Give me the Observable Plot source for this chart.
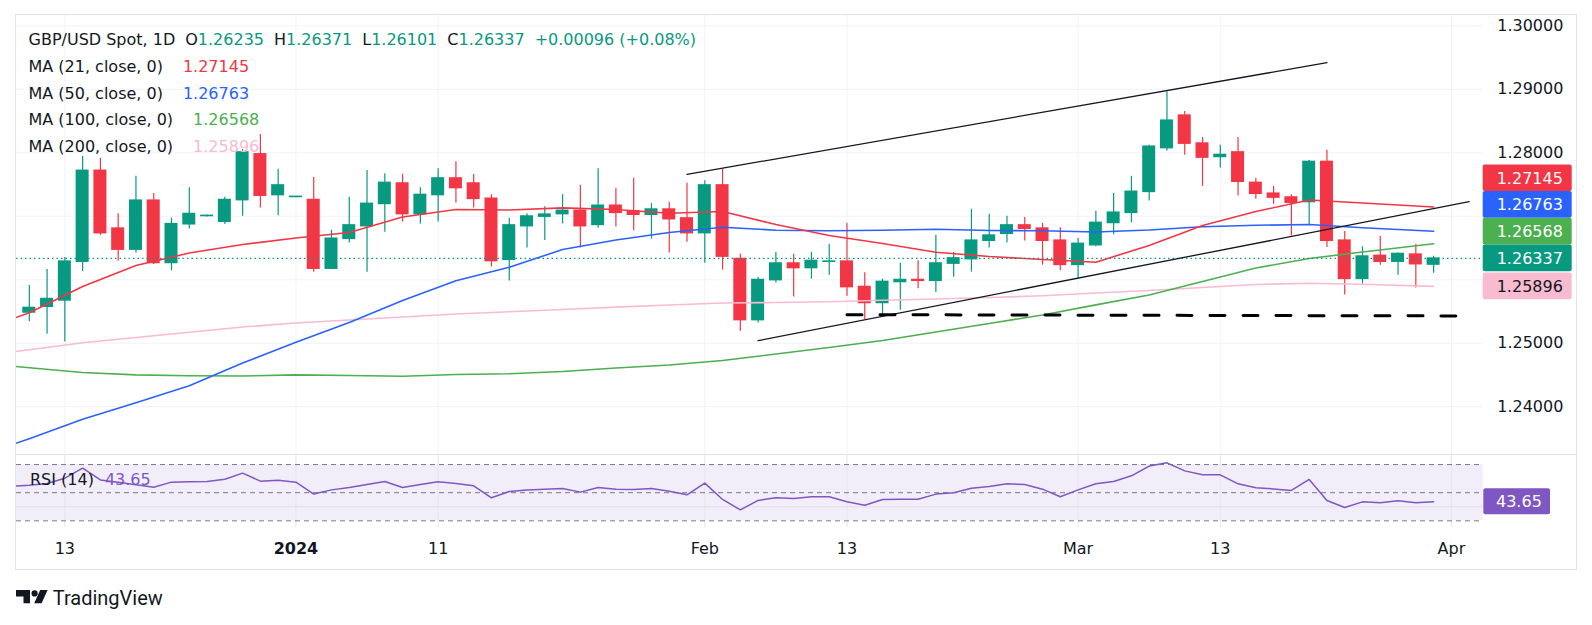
<!DOCTYPE html>
<html><head><meta charset="utf-8">
<script src="https://cdn.jsdelivr.net/npm/d3@7"></script>
<script src="https://cdn.jsdelivr.net/npm/@observablehq/plot@0.6"></script>
<style>
html,body{margin:0;padding:0;background:#fff;}
#wrap{position:relative;width:1592px;height:625px;overflow:hidden;font-family:"DejaVu Sans",sans-serif;color:#131722;}
#wrap > svg{position:absolute;left:0;}
.legend{position:absolute;font-size:16px;line-height:26.7px;white-space:nowrap;}
.row{display:flex;gap:20px;height:26.7px;}
.row.first{gap:10px;}
.frame{position:absolute;box-sizing:border-box;border:1.5px solid #E0E3EB;}
.sep{position:absolute;background:#E0E3EB;}
</style></head><body><div id="wrap"></div>
<script>
// ---------- DATA ----------
const dates = ["2023-12-11","2023-12-12","2023-12-13","2023-12-14","2023-12-15","2023-12-18","2023-12-19","2023-12-20","2023-12-21","2023-12-22",
"2023-12-25","2023-12-26","2023-12-27","2023-12-28","2023-12-29","2024-01-01","2024-01-02","2024-01-03","2024-01-04","2024-01-05",
"2024-01-08","2024-01-09","2024-01-10","2024-01-11","2024-01-12","2024-01-15","2024-01-16","2024-01-17","2024-01-18","2024-01-19",
"2024-01-22","2024-01-23","2024-01-24","2024-01-25","2024-01-26","2024-01-29","2024-01-30","2024-01-31","2024-02-01","2024-02-02",
"2024-02-05","2024-02-06","2024-02-07","2024-02-08","2024-02-09","2024-02-12","2024-02-13","2024-02-14","2024-02-15","2024-02-16",
"2024-02-19","2024-02-20","2024-02-21","2024-02-22","2024-02-23","2024-02-26","2024-02-27","2024-02-28","2024-02-29","2024-03-01",
"2024-03-04","2024-03-05","2024-03-06","2024-03-07","2024-03-08","2024-03-11","2024-03-12","2024-03-13","2024-03-14","2024-03-15",
"2024-03-18","2024-03-19","2024-03-20","2024-03-21","2024-03-22","2024-03-25","2024-03-26","2024-03-27","2024-03-28","2024-03-29"];

const open = [1.2548,1.2557,1.2567,1.2628,1.2772,1.2681,1.2647,1.2725,1.2626,1.2687,
1.2700,1.2691,1.2725,1.2798,1.2733,1.2730,1.2726,1.2617,1.2664,1.2684,
1.2719,1.2752,1.2703,1.2733,1.2760,1.2752,1.2728,1.2631,1.2684,1.2699,
1.2703,1.2709,1.2686,1.2717,1.2708,1.2702,1.2711,1.2697,1.2673,1.2749,
1.2633,1.2536,1.2599,1.2626,1.2618,1.2628,1.2629,1.2589,1.2563,1.2596,
1.2600,1.2598,1.2625,1.2632,1.2661,1.2672,1.2686,1.2681,1.2662,1.2623,
1.2654,1.2689,1.2705,1.2738,1.2807,1.2859,1.2815,1.2793,1.2801,1.2753,
1.2736,1.2730,1.2722,1.2786,1.2662,1.2601,1.2638,1.2628,1.2640,1.26235];

const high = [1.2591,1.2616,1.2635,1.2794,1.2791,1.2704,1.2763,1.2736,1.2697,1.2745,
1.2702,1.2730,1.2805,1.2829,1.2774,1.2731,1.2761,1.2678,1.2730,1.2772,
1.2767,1.2766,1.2745,1.2775,1.2786,1.2766,1.2734,1.2697,1.2704,1.2715,
1.2734,1.2749,1.2775,1.2744,1.2760,1.2720,1.2722,1.2752,1.2756,1.2774,
1.2640,1.2604,1.2643,1.2640,1.2643,1.2656,1.2689,1.2611,1.2601,1.2626,
1.2630,1.2670,1.2643,1.2711,1.2703,1.2700,1.2698,1.2689,1.2682,1.2665,
1.2708,1.2736,1.2763,1.2812,1.2896,1.2865,1.2824,1.2812,1.2824,1.2760,
1.2747,1.2734,1.2788,1.2804,1.2676,1.2652,1.2668,1.2642,1.2656,1.26371];

const low = [1.2534,1.2514,1.2502,1.2613,1.2670,1.2629,1.2642,1.2624,1.2614,1.2680,
1.2699,1.2687,1.2700,1.2713,1.2701,1.2729,1.2612,1.2616,1.2658,1.2612,
1.2675,1.2691,1.2688,1.2691,1.2721,1.2713,1.2620,1.2598,1.2650,1.2662,
1.2688,1.2650,1.2681,1.2683,1.2677,1.2664,1.2642,1.2659,1.2626,1.2615,
1.2519,1.2532,1.2595,1.2573,1.2601,1.2607,1.2574,1.2537,1.2543,1.2552,
1.2586,1.2580,1.2604,1.2612,1.2650,1.2658,1.2661,1.2623,1.2614,1.2601,
1.2652,1.2671,1.2690,1.2724,1.2803,1.2796,1.2747,1.2776,1.2732,1.2727,
1.2719,1.2669,1.2687,1.2651,1.2576,1.2593,1.2623,1.2607,1.2587,1.26101];

const close = [1.2556,1.2570,1.2629,1.2772,1.2673,1.2647,1.2725,1.2626,1.2688,1.2704,
1.2701,1.2726,1.2801,1.2732,1.2749,1.2731,1.2617,1.2665,1.2686,1.2720,
1.2753,1.2703,1.2734,1.2760,1.2744,1.2727,1.2629,1.2686,1.2700,1.2703,
1.2709,1.2684,1.2717,1.2705,1.2702,1.2711,1.2695,1.2673,1.2749,1.2636,
1.2536,1.2600,1.2626,1.2618,1.2630,1.2629,1.2588,1.2563,1.2597,1.2600,
1.2598,1.2626,1.2634,1.2662,1.2670,1.2686,1.2680,1.2661,1.2623,1.2657,
1.2690,1.2706,1.2739,1.2810,1.2851,1.2814,1.2792,1.2797,1.2754,1.2735,
1.2729,1.2721,1.2786,1.2661,1.2601,1.2637,1.2628,1.2641,1.26241,1.26337];

// moving averages read at these bar indices (-1 = 2023-12-08, just off the left edge)
const maIdx = [-1,0,3,6,9,12,15,18,21,24,27,30,33,36,39,42,45,48,51,54,57,60,63,66,69,72,75,79];
const ma21 = [1.2538,1.25479,1.25894,1.26224,1.26421,1.26555,1.26658,1.26744,1.26989,1.27107,1.27099,1.27133,1.27107,1.27048,1.27075,1.26870,1.26697,1.26571,1.26434,1.26366,1.26319,1.26276,1.26540,1.26855,1.27075,1.27256,1.27209,1.27145];
const ma50 = [1.2340,1.23496,1.23803,1.24061,1.24331,1.24688,1.25016,1.25326,1.25673,1.25983,1.26196,1.26476,1.26626,1.26744,1.26828,1.26781,1.26771,1.26781,1.26796,1.26776,1.26773,1.26752,1.26784,1.26836,1.26858,1.26870,1.26820,1.26763];
const ma100 = [1.2464,1.24614,1.24539,1.24502,1.24487,1.24483,1.24502,1.24491,1.24479,1.24507,1.24520,1.24554,1.24610,1.24657,1.24728,1.24830,1.24933,1.25043,1.25177,1.25311,1.25445,1.25604,1.25761,1.25972,1.26185,1.26335,1.26437,1.26568];
const ma200 = [1.2486,1.24898,1.25008,1.25090,1.25172,1.25256,1.25319,1.25366,1.25413,1.25460,1.25497,1.25531,1.25569,1.25602,1.25634,1.25642,1.25654,1.25676,1.25697,1.25720,1.25747,1.25791,1.25831,1.25878,1.25925,1.25946,1.25930,1.25896];

// RSI(14), first value is bar -1 (2023-12-08)
const rsiValues = [54.6,55.3,56.6,60.3,67.4,59.1,57.5,55.6,53.9,57.5,57.7,58.0,59.6,63.9,58.2,58.9,57.5,49.0,52.0,53.7,55.8,
58.0,53.7,55.8,57.7,56.5,54.9,46.4,50.9,52.0,52.5,53.0,50.4,53.7,52.5,52.3,53.0,51.1,48.5,56.8,45.2,
37.8,44.5,46.4,45.9,47.1,47.1,43.5,41.1,45.2,45.4,45.4,49.0,49.9,53.2,54.4,56.3,55.8,52.5,47.1,52.0,
56.3,58.0,62.0,68.9,71.2,65.5,62.7,62.7,56.3,53.5,52.7,51.6,59.4,44.5,39.5,43.5,42.8,44.2,42.8,43.65];

// drawn trend lines: [bar index, price]
const upperTrend = [[37,1.2766],[73,1.2942]];
const lowerTrend = [[41,1.2504],[81,1.2723]];
const supportLine = [[46,1.2545],[80.25,1.2543]];

const tickIdx = [2,15,23,38,46,59,67,80];
const tickLabels = ["13","2024","11","Feb","13","Mar","13","Apr"];
const priceTicks = [1.24,1.25,1.26,1.27,1.28,1.29,1.30];
const rsiLevels = [70,50,30];

// ---------- CHART ----------
const GREEN="#089981", RED="#F23645", BLUE="#2962FF", LGREEN="#4CAF50", PINK="#F8BBD0", PURPLE="#7E57C2";
const W = 1592, plotRight = 1482.7, LH = 26.7;
const xDomain = [-0.72, 81.79];
const yDomain = [1.23247, 1.30163];
const bars = dates.map((d,i)=>({i, date:d, o:open[i], h:high[i], l:low[i], c:close[i]}));
const maSeries = (vals)=>maIdx.map((i,k)=>({i, v:vals[k]}));
const rsiData = rsiValues.map((v,k)=>({i:k-1, v}));
const pts = a=>a.map(([i,p])=>({i,p}));
const col = d=>d.c>=d.o?GREEN:RED;
const lastOf = a=>a[a.length-1];
const baseStyle = {fontFamily:"DejaVu Sans", fontSize:"16px", background:"transparent", overflow:"visible"};

// price-scale labels (value, colours); their boxes hide axis ticks underneath, as in TradingView
const priceLabels = [
  {v:lastOf(ma21), fill:RED, color:"#fff"},
  {v:lastOf(ma50), fill:BLUE, color:"#fff"},
  {v:lastOf(ma100), fill:LGREEN, color:"#fff"},
  {v:lastOf(close), fill:GREEN, color:"#fff", anchor:true},
  {v:lastOf(ma200), fill:PINK, color:"#131722"}
];

const wrap = document.getElementById("wrap");

function buildMain(axisTicks){
  return Plot.plot({
    width:W, height:455, marginTop:15, marginBottom:1, marginLeft:16, marginRight:W-plotRight,
    x:{domain:xDomain, axis:null},
    y:{domain:yDomain, axis:null},
    color:{type:"identity"},
    style:baseStyle,
    marks:[
      Plot.gridY(priceTicks,{stroke:"#F0F3FA", strokeOpacity:1}),
      Plot.gridX(tickIdx,{stroke:"#F0F3FA", strokeOpacity:1}),
      Plot.axisY(axisTicks,{anchor:"right", tickSize:0, tickPadding:14, tickFormat:d=>d.toFixed(5), fill:"#131722", fontSize:16}),
      Plot.ruleX(bars,{x:"i", y1:"l", y2:"h", stroke:col, strokeWidth:1.2}),
      Plot.rect(bars,{x1:d=>d.i-0.366, x2:d=>d.i+0.366, y1:d=>Math.min(d.o,d.c), y2:d=>Math.max(d.o,d.c), fill:col, insetTop:-0.5, insetBottom:-0.5}),
      Plot.line(maSeries(ma200),{x:"i", y:"v", stroke:PINK, strokeWidth:1.6, clip:true}),
      Plot.line(maSeries(ma100),{x:"i", y:"v", stroke:LGREEN, strokeWidth:1.6, clip:true}),
      Plot.line(maSeries(ma50),{x:"i", y:"v", stroke:BLUE, strokeWidth:1.6, clip:true}),
      Plot.line(maSeries(ma21),{x:"i", y:"v", stroke:RED, strokeWidth:1.6, clip:true}),
      Plot.ruleY([lastOf(close)],{stroke:GREEN, strokeDasharray:"1.5,3", strokeWidth:1.2}),
      Plot.line(pts(upperTrend),{x:"i", y:"p", stroke:"#131722", strokeWidth:1.3}),
      Plot.line(pts(lowerTrend),{x:"i", y:"p", stroke:"#131722", strokeWidth:1.3, clip:true}),
      Plot.line(pts(supportLine),{x:"i", y:"p", stroke:"#000", strokeWidth:3, strokeDasharray:"15,18"})
    ]
  });
}

// first pass to get the scale, then stack labels and drop hidden ticks
let main = buildMain(priceTicks);
const ys = main.scale("y");
const lbls = priceLabels.map(d=>({...d, y:ys.apply(d.v)})).sort((a,b)=>a.y-b.y);
const ai = lbls.findIndex(d=>d.anchor);
for (let k=ai-1;k>=0;k--) lbls[k].y = Math.min(lbls[k].y, lbls[k+1].y-LH);
for (let k=ai+1;k<lbls.length;k++) lbls[k].y = Math.max(lbls[k].y, lbls[k-1].y+LH);
const visibleTicks = priceTicks.filter(t=>lbls.every(d=>Math.abs(ys.apply(t)-d.y) > LH/2+7));
main = buildMain(visibleTicks);
main.style.top = "0px";
wrap.appendChild(main);

const gl = d3.select(main).append("g").attr("text-anchor","start");
lbls.forEach(d=>{
  gl.append("rect").attr("x",plotRight).attr("y",d.y-LH/2).attr("width",89).attr("height",LH).attr("rx",2).attr("fill",d.fill);
  gl.append("text").attr("x",plotRight+14).attr("y",d.y).attr("dy","0.36em").attr("fill",d.color)
    .attr("text-anchor","start").attr("font-family","DejaVu Sans").attr("font-size",16).text(d.v.toFixed(5));
});

// RSI pane
const xl = tickIdx.map((i,k)=>({i, label:tickLabels[k], bold:/^\d{4}$/.test(tickLabels[k])}));
const rsi = Plot.plot({
  width:W, height:116, marginTop:0, marginBottom:43, marginLeft:16, marginRight:W-plotRight,
  x:{domain:xDomain, axis:null},
  y:{domain:[25.27,77.14], axis:null},
  style:baseStyle,
  marks:[
    Plot.rect([{lo:30, hi:70}],{x1:xDomain[0], x2:xDomain[1], y1:"lo", y2:"hi", fill:PURPLE, fillOpacity:0.1}),
    Plot.ruleY([40],{stroke:"#E2DEEA"}),
    Plot.gridX(tickIdx,{stroke:"#E6E3EE", strokeOpacity:1}),
    Plot.ruleY(rsiLevels,{stroke:"#787B86", strokeDasharray:"5,4", strokeWidth:1}),
    Plot.line(rsiData,{x:"i", y:"v", stroke:PURPLE, strokeWidth:1.5, clip:true}),
    Plot.text(xl.filter(d=>!d.bold),{x:"i", text:"label", frameAnchor:"bottom", dy:21.5, lineAnchor:"middle", fill:"#131722", fontSize:16}),
    Plot.text(xl.filter(d=>d.bold),{x:"i", text:"label", frameAnchor:"bottom", dy:21.5, lineAnchor:"middle", fill:"#131722", fontSize:16, fontWeight:"bold"})
  ]
});
rsi.style.top = "454px";
wrap.appendChild(rsi);
const yr = rsi.scale("y");
const lastRsi = lastOf(rsiValues);
const gr = d3.select(rsi).append("g").attr("text-anchor","start");
gr.append("rect").attr("x",plotRight+0.6).attr("y",yr.apply(lastRsi)-13).attr("width",66.7).attr("height",26).attr("rx",2).attr("fill",PURPLE);
gr.append("text").attr("x",plotRight+13.3).attr("y",yr.apply(lastRsi)).attr("dy","0.36em").attr("fill","#fff")
  .attr("text-anchor","start").attr("font-family","DejaVu Sans").attr("font-size",16).text(lastRsi.toFixed(2));

// frame
const fr = document.createElement("div"); fr.className="frame";
Object.assign(fr.style,{left:"15.25px",top:"14.25px",width:"1561.5px",height:"555.5px"});
wrap.appendChild(fr);
const sp = document.createElement("div"); sp.className="sep";
Object.assign(sp.style,{left:"16px",top:"453.5px",width:"1560px",height:"1.5px"});
wrap.appendChild(sp);

// legend
const n = close.length-1;
const chg = close[n]-close[n-1];
const pct = chg/close[n-1]*100;
const tc = chg>=0?GREEN:RED;
const sign = v=>(parseFloat(v)>=0?"+":"")+v;
const lg = document.createElement("div"); lg.className="legend";
Object.assign(lg.style,{left:"28.5px",top:"27.35px"});
lg.innerHTML =
 `<div class="row first"><span>GBP/USD Spot, 1D</span>`+
 `<span>O<span style="color:${tc}">${open[n].toFixed(5)}</span></span>`+
 `<span>H<span style="color:${tc}">${high[n].toFixed(5)}</span></span>`+
 `<span>L<span style="color:${tc}">${low[n].toFixed(5)}</span></span>`+
 `<span>C<span style="color:${tc}">${close[n].toFixed(5)}</span></span>`+
 `<span style="color:${tc}">${sign(chg.toFixed(5))} (${sign(pct.toFixed(2))}%)</span></div>`+
 [[21,ma21,RED],[50,ma50,BLUE],[100,ma100,LGREEN],[200,ma200,PINK]].map(([p,a,c])=>
 `<div class="row"><span>MA (${p}, close, 0)</span><span style="color:${c}">${lastOf(a).toFixed(5)}</span></div>`).join("");
wrap.appendChild(lg);

const rl = document.createElement("div"); rl.className="legend";
Object.assign(rl.style,{left:"30px",top:"466.7px"});
rl.innerHTML = `<div class="row" style="gap:11px"><span>RSI (14)</span><span style="color:${PURPLE}">${lastRsi.toFixed(2)}</span></div>`;
wrap.appendChild(rl);

// TradingView logo
const logo = document.createElementNS("http://www.w3.org/2000/svg","svg");
logo.setAttribute("width","200"); logo.setAttribute("height","45");
logo.style.top="575px";
logo.innerHTML = `<path d="M16 15H30V28.3H23.5V21.5H16Z" fill="#131722"/>`+
 `<circle cx="34.6" cy="18.4" r="3.1" fill="#131722"/>`+
 `<path d="M40.2 15H47.6L41.6 28.3H34.2Z" fill="#131722"/>`+
 `<text x="52.7" y="30" font-family="Roboto" font-size="20" fill="#131722">TradingView</text>`;
wrap.appendChild(logo);
</script></body></html>
